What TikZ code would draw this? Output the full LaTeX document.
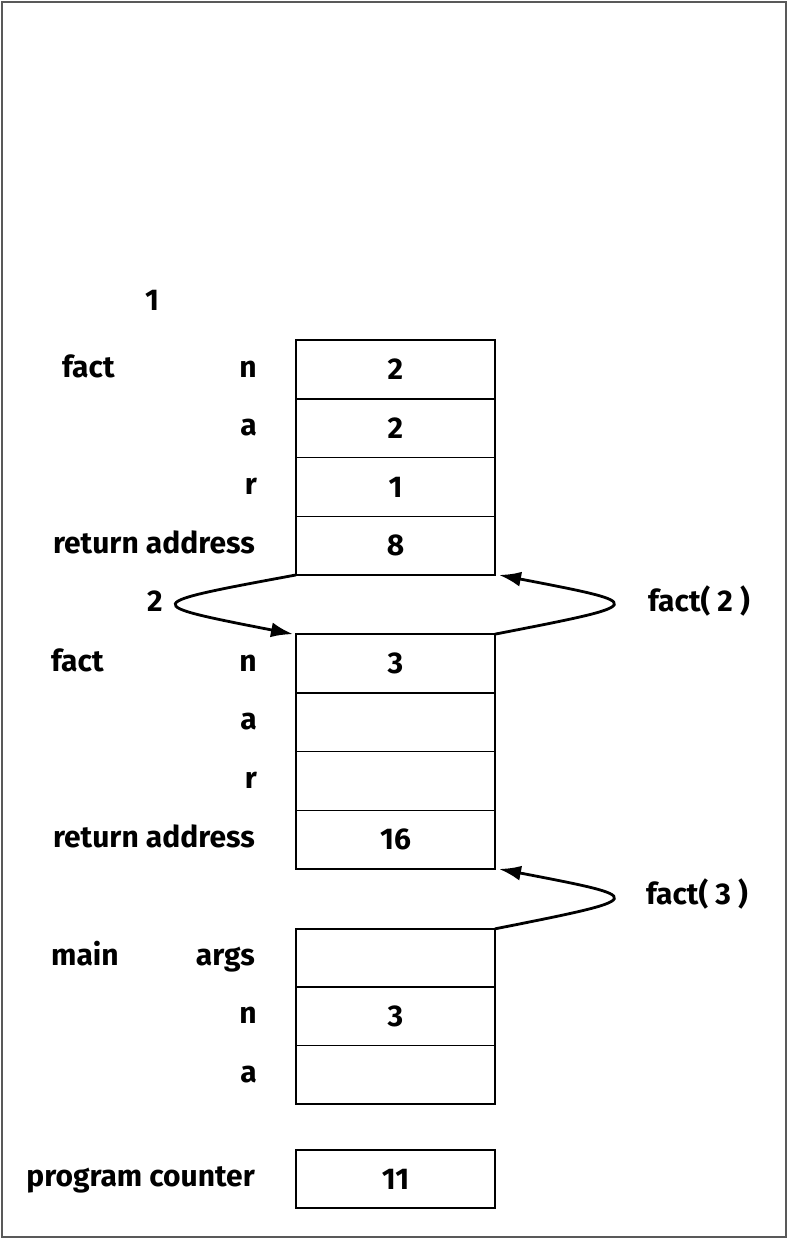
\documentclass[tikz,border=0pt]{standalone}
\usepackage{fontspec}
\setmainfont{Fira Sans}
\usetikzlibrary{positioning,arrows.meta}

\tikzset{
	cell/.style={draw, line width=1.5pt, minimum width=199pt, minimum height=58.7pt, inner sep=0pt, outer sep=0pt, font=\fontsize{30}{34}\selectfont\bfseries},
	lbl/.style={inner sep=0pt, text height=21pt, text depth=6pt, font=\fontsize{30}{34}\selectfont\bfseries},
	call/.style={line width=2.8pt, -{Latex[length=22pt,width=15pt]}},
}

\begin{document}
\begin{tikzpicture}[x=1pt, y=-1pt]
	\useasboundingbox (0,0) rectangle (788,1239);
	\draw[line width=2pt, black!65] (2,2) rectangle (786,1237);

	% fact(2)
	\node[cell] (f1n) at (395.5,369.5) {2};
	\node[cell, below=0pt of f1n] (f1a) {2};
	\node[cell, below=0pt of f1a] (f1r) {1};
	\node[cell, below=0pt of f1r] (f1ret) {8};
	\node[lbl, left=39pt of f1n] (f1nl) {n};
	\node[lbl, left=39pt of f1a] (f1al) {a};
	\node[lbl, left=39pt of f1r] (f1rl) {r};
	\node[lbl, left=41pt of f1ret] (f1retl) {return address};
	\node[lbl, anchor=west] (f1name) at (62,369.5) {fact};
	\node[lbl] (f1res) at (152,303) {1};

	% fact(3)
	\node[cell] (f2n) at (395.5,663.5) {3};
	\node[cell, below=0pt of f2n] (f2a) {};
	\node[cell, below=0pt of f2a] (f2r) {};
	\node[cell, below=0pt of f2r] (f2ret) {16};
	\node[lbl, left=39pt of f2n] (f2nl) {n};
	\node[lbl, left=39pt of f2a] (f2al) {a};
	\node[lbl, left=39pt of f2r] (f2rl) {r};
	\node[lbl, left=41pt of f2ret] (f2retl) {return address};
	\node[lbl, anchor=west] (f2name) at (51,663.5) {fact};
	\node[lbl] (f2res) at (155,604) {2};

	% main
	\node[cell, minimum height=58.3pt] (margs) at (395.5,958) {};
	\node[cell, minimum height=58.3pt, below=0pt of margs] (mn) {3};
	\node[cell, minimum height=58.3pt, below=0pt of mn] (ma) {};
	\node[lbl, left=41pt of margs] (margsl) {args};
	\node[lbl, left=39pt of mn] (mnl) {n};
	\node[lbl, left=39pt of ma] (mal) {a};
	\node[lbl, anchor=west] (mname) at (51,958) {main};

	\node[cell, minimum height=58pt] (pc) at (395.5,1179) {11};
	\node[lbl, left=41pt of pc] (pcl) {program counter};

	% calls and returns
	\node[lbl] (c2) at (699,604) {fact( 2 )};
	\node[lbl] (c3) at (697,897) {fact( 3 )};
	\draw[call] (f1ret.south west) .. controls (139,604) and (139,604) .. ([xshift=-3pt]f2n.north west);
	\draw[call] (f2n.north east) .. controls (650,604) and (650,604) .. ([xshift=4pt]f1ret.south east);
	\draw[call] (margs.north east) .. controls (650,898) and (650,898) .. ([xshift=4pt]f2ret.south east);
\end{tikzpicture}
\end{document}
